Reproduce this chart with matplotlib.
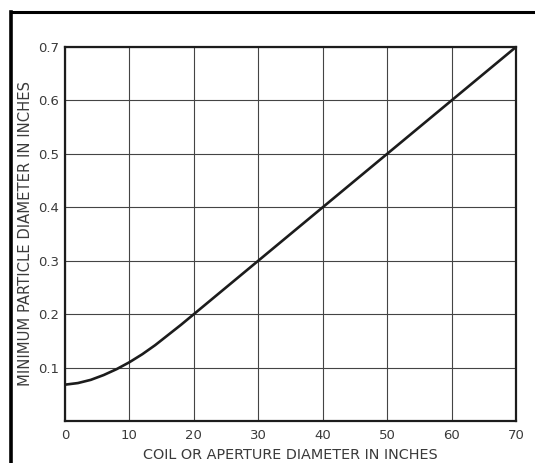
import matplotlib
matplotlib.use("Agg")
import matplotlib.pyplot as plt
from matplotlib.lines import Line2D

# Curve
coil_diameter = [0, 2, 4, 6, 8, 10, 12, 14, 16, 18, 20, 30, 40, 50, 60, 70]
particle_diameter = [0.068, 0.071, 0.077, 0.086, 0.097, 0.110, 0.125, 0.142,
                     0.161, 0.180, 0.200, 0.300, 0.400, 0.500, 0.600, 0.700]

x_ticks = [0, 10, 20, 30, 40, 50, 60, 70]
y_ticks = [0.1, 0.2, 0.3, 0.4, 0.5, 0.6, 0.7]
y_tick_labels = ["0.1", "0.2", "0.3", "0.4", "0.5", "0.6", "0.7"]

ink = "#1c1c1c"
text_col = "#3a3a3a"

fig = plt.figure(figsize=(5.35, 4.63), dpi=100)
ax = fig.add_axes([65 / 535, 1 - 421 / 463, (516 - 65) / 535, (421 - 47) / 463])

ax.plot(coil_diameter, particle_diameter, color=ink, linewidth=1.9,
        solid_capstyle="round")

ax.set_xlim(0, 70)
ax.set_ylim(0, 0.7)
ax.set_xticks(x_ticks)
ax.set_xticklabels([str(t) for t in x_ticks])
ax.set_yticks(y_ticks)
ax.set_yticklabels(y_tick_labels)
ax.tick_params(axis="x", length=0, labelsize=9.5, labelcolor=text_col, pad=6)
ax.tick_params(axis="y", length=0, labelsize=9.5, labelcolor=text_col, pad=4)
ax.grid(True, color="#444444", linewidth=0.8)
for s in ax.spines.values():
    s.set_linewidth(1.6)
    s.set_color(ink)

ax.set_xlabel("COIL OR APERTURE DIAMETER IN INCHES", fontsize=10.4,
              color=text_col, labelpad=4)
ax.set_ylabel("MINIMUM PARTICLE DIAMETER IN INCHES", fontsize=10.6,
              color=text_col, labelpad=4)

# thick page frame on the left and top, as in the scan
fig.add_artist(Line2D([11 / 535, 11 / 535], [0, 1 - 12 / 463],
                      transform=fig.transFigure, color="black", linewidth=2.6))
fig.add_artist(Line2D([11 / 535, 1], [1 - 12 / 463, 1 - 12 / 463],
                      transform=fig.transFigure, color="black", linewidth=2.2))

fig.savefig("out.png", dpi=100)
